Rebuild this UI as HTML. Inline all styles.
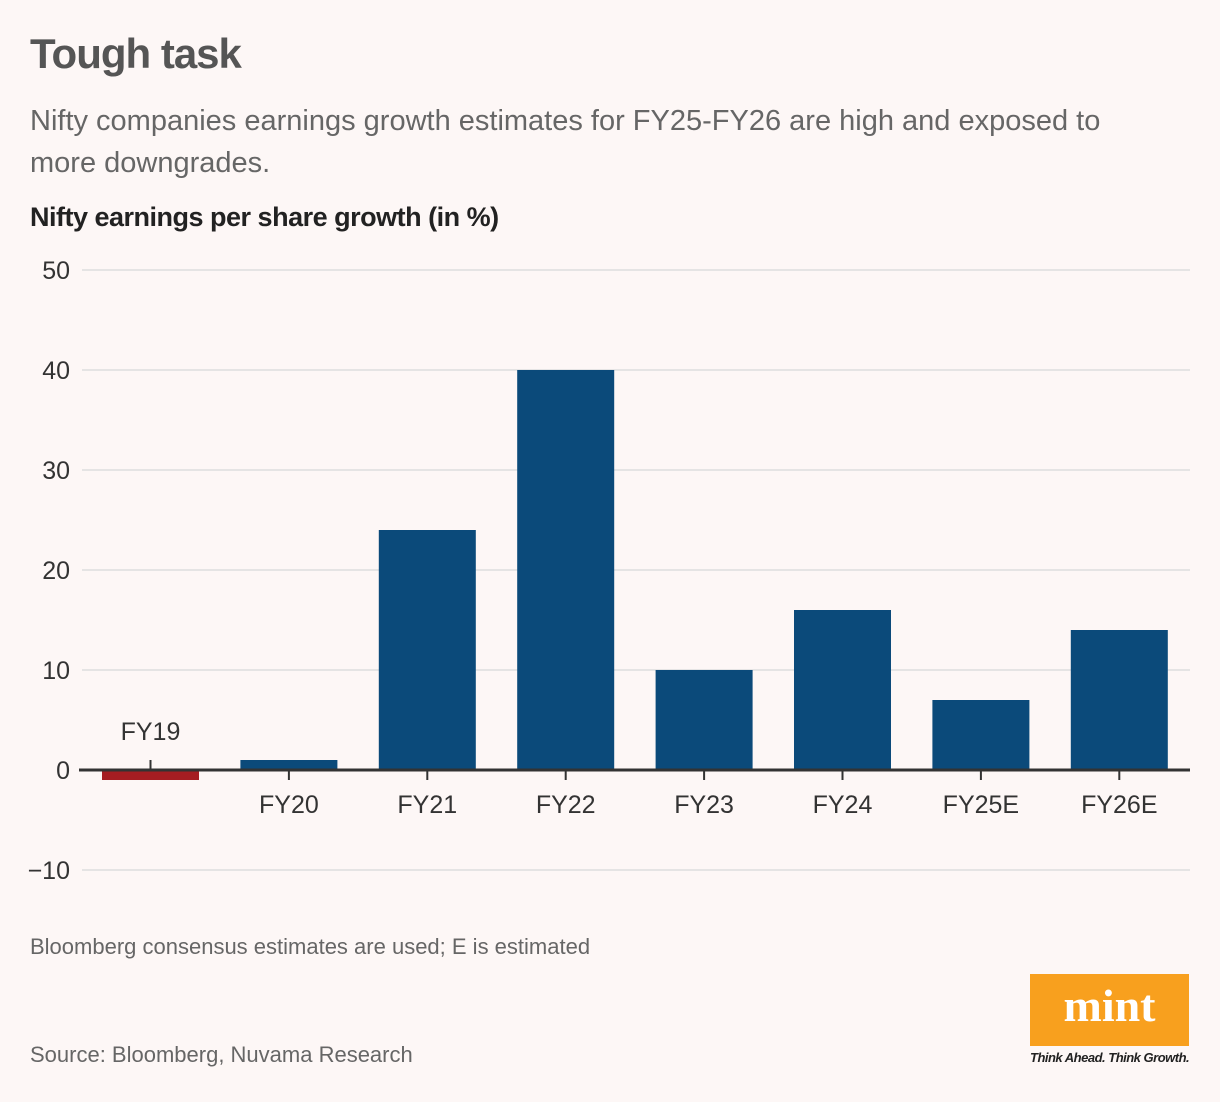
<!DOCTYPE html>
<html><head><meta charset="utf-8"><style>
body{margin:0;background:#fdf7f6;font-family:"Liberation Sans",sans-serif;}
#wrap{position:relative;width:1220px;height:1102px;overflow:hidden;background:#fdf7f6}
.t{position:absolute;white-space:nowrap}
</style></head><body><div id="wrap">
<div class="t" style="left:30px;top:30px;font-size:42px;font-weight:bold;color:#555;letter-spacing:-1px">Tough task</div>
<div class="t" style="left:30px;top:100px;font-size:29px;color:#666;line-height:42px;white-space:normal;width:1110px">Nifty companies earnings growth estimates for FY25-FY26 are high and exposed to more downgrades.</div>
<div class="t" style="left:30px;top:202px;font-size:27px;font-weight:bold;color:#222;letter-spacing:-0.5px">Nifty earnings per share growth (in %)</div>
<svg id="chart" width="1220" height="1102" style="position:absolute;left:0;top:0"></svg>
<div class="t" style="left:30px;top:934px;font-size:22px;color:#666">Bloomberg consensus estimates are used; E is estimated</div>
<div class="t" style="left:30px;top:1042px;font-size:22px;color:#666">Source: Bloomberg, Nuvama Research</div>
<div style="position:absolute;left:1030px;top:974px;width:159px;height:72px;background:#f8a01e;color:#fff;font-family:'Liberation Serif',serif;font-weight:bold;font-size:46px;text-align:center;line-height:64px">mint</div>
<div class="t" style="left:1030px;top:1050px;font-size:13px;font-style:italic;font-weight:bold;color:#222;letter-spacing:-0.5px">Think Ahead. Think Growth.</div>
</div>
<script>
const categories=["FY19","FY20","FY21","FY22","FY23","FY24","FY25E","FY26E"];
const values=[-1,1,24,40,10,16,7,14];
const yTicks=[50,40,30,20,10,0,-10];
const NS="http://www.w3.org/2000/svg";
const svg=document.getElementById("chart");
const y=v=>770-v*10;
const x=i=>150.5+i*138.4;
const bw=97;
function mk(t,a){const e=document.createElementNS(NS,t);for(const k in a)e.setAttribute(k,a[k]);svg.appendChild(e);return e;}
yTicks.forEach(v=>{
  if(v!==0){const g=mk("line",{x1:82,x2:1190,y1:y(v),y2:y(v),stroke:"#ddd","stroke-width":1.5});
  
  }
  const t=mk("text",{x:70,y:y(v)+9,"text-anchor":"end","font-size":25,fill:"#333","font-family":"Liberation Sans, sans-serif"});
  t.textContent=v<0?"\u2212"+(-v):v;
  
  
});
values.forEach((v,i)=>{
  const top=Math.min(y(v),y(0)),h=Math.abs(y(v)-y(0));
  const r=mk("rect",{x:x(i)-bw/2,y:top,width:bw,height:h,fill:v<0?"#a51d22":"#0b4a7a"});
  
  
  const neg=v<0;
  const tk=mk("line",{x1:x(i),x2:x(i),y1:neg?760:770,y2:neg?770:780,stroke:"#333","stroke-width":2});
  
  
  const t=mk("text",{x:x(i),y:neg?740:813,"text-anchor":"middle","font-size":25,fill:"#333","font-family":"Liberation Sans, sans-serif"});
  t.textContent=categories[i];
  
  
});
const ax=mk("line",{x1:79,x2:1190,y1:770,y2:770,stroke:"#333","stroke-width":3});


</script></body></html>
